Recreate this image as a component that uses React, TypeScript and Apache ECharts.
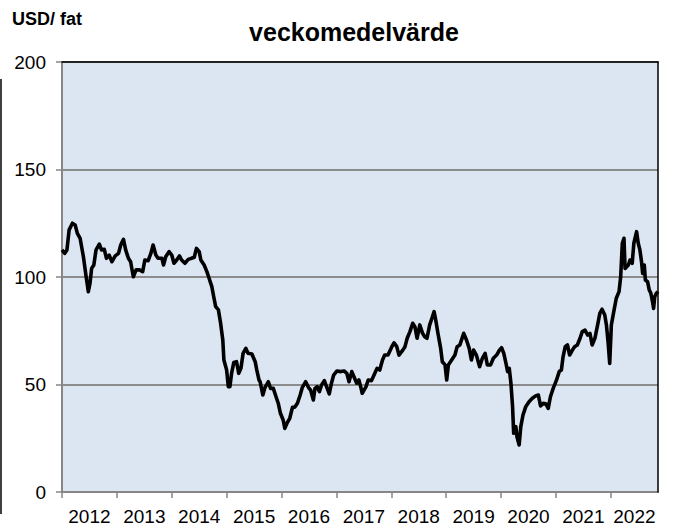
import React, { useEffect, useRef } from "react";
import * as echarts from "echarts";

const titleText = "veckomedelvärde";
const unitText = "USD/ fat";
const years = [2012, 2013, 2014, 2015, 2016, 2017, 2018, 2019, 2020, 2021, 2022];
const xMin = 2012;
const xMax = 2022.86;
const yTicks = [0, 50, 100, 150, 200];

// time position (decimal year) of each sample
const t = [
  2012.0, 2012.05, 2012.09, 2012.13, 2012.19, 2012.24, 2012.28, 2012.33, 2012.39, 2012.44,
  2012.48, 2012.51, 2012.54, 2012.58, 2012.62, 2012.68, 2012.72, 2012.77, 2012.81, 2012.86,
  2012.91, 2012.97, 2013.03, 2013.07, 2013.12, 2013.16, 2013.21, 2013.25, 2013.3, 2013.35,
  2013.41, 2013.47, 2013.51, 2013.57, 2013.62, 2013.66, 2013.71, 2013.75, 2013.82, 2013.85,
  2013.89, 2013.95, 2014.0, 2014.04, 2014.09, 2014.14, 2014.18, 2014.24, 2014.3, 2014.36,
  2014.41, 2014.45, 2014.5, 2014.53, 2014.59, 2014.64, 2014.68, 2014.73, 2014.77, 2014.8,
  2014.85, 2014.89, 2014.93, 2014.95, 2015.0, 2015.03, 2015.06, 2015.09, 2015.13, 2015.18,
  2015.22, 2015.26, 2015.3, 2015.35, 2015.39, 2015.46, 2015.52, 2015.55, 2015.59, 2015.61,
  2015.66, 2015.7, 2015.76, 2015.8, 2015.85, 2015.9, 2015.94, 2015.98, 2016.03, 2016.06,
  2016.1, 2016.15, 2016.2, 2016.24, 2016.29, 2016.34, 2016.38, 2016.44, 2016.49, 2016.53,
  2016.58, 2016.61, 2016.65, 2016.69, 2016.73, 2016.78, 2016.82, 2016.87, 2016.91, 2016.95,
  2017.01, 2017.08, 2017.14, 2017.19, 2017.23, 2017.28, 2017.32, 2017.37, 2017.41, 2017.45,
  2017.47, 2017.54, 2017.58, 2017.64, 2017.7, 2017.74, 2017.79, 2017.84, 2017.88, 2017.94,
  2018.01, 2018.05, 2018.1, 2018.14, 2018.21, 2018.25, 2018.29, 2018.34, 2018.39, 2018.43,
  2018.47, 2018.52, 2018.57, 2018.61, 2018.65, 2018.7, 2018.75, 2018.78, 2018.81, 2018.85,
  2018.9, 2018.93, 2018.98, 2019.01, 2019.04, 2019.1, 2019.16, 2019.2, 2019.25, 2019.32,
  2019.37, 2019.42, 2019.46, 2019.5, 2019.55, 2019.61, 2019.66, 2019.71, 2019.75, 2019.81,
  2019.86, 2019.92, 2019.97, 2020.01, 2020.05, 2020.09, 2020.12, 2020.15, 2020.18, 2020.21,
  2020.23, 2020.27, 2020.29, 2020.33, 2020.36, 2020.4, 2020.45, 2020.51, 2020.57, 2020.63,
  2020.68, 2020.72, 2020.77, 2020.82, 2020.86, 2020.9, 2020.95, 2021.01, 2021.06, 2021.1,
  2021.13, 2021.17, 2021.21, 2021.25, 2021.3, 2021.34, 2021.39, 2021.44, 2021.48, 2021.53,
  2021.58, 2021.62, 2021.66, 2021.71, 2021.76, 2021.8, 2021.84, 2021.89, 2021.92, 2021.95,
  2021.98, 2022.01, 2022.06, 2022.1, 2022.15, 2022.18, 2022.21, 2022.24, 2022.26, 2022.29,
  2022.32, 2022.35, 2022.39, 2022.42, 2022.47, 2022.5, 2022.53, 2022.56, 2022.58, 2022.61,
  2022.63, 2022.67, 2022.7, 2022.73, 2022.76, 2022.78, 2022.8, 2022.83, 2022.86,
];

// weekly average price, USD per barrel
const price = [
  112.6, 111, 112.6, 121.9, 125, 124.2, 120.3, 118, 109.4, 100.1,
  93.2, 97, 104, 105.6, 112.6, 115.3, 112.6, 112.9, 108.7, 110.2,
  107.1, 109.8, 111, 114.9, 117.5, 112.6, 108.7, 107.1, 100.1, 103.3,
  103.3, 102.5, 107.9, 107.6, 111, 114.9, 110.2, 108.7, 108.7, 105.6,
  109.4, 111.8, 110.2, 106.4, 107.9, 109.8, 107.9, 106.4, 108.2, 108.7,
  109.2, 113.3, 111.8, 107.9, 105.6, 102.5, 99.4, 95.5, 90.1, 86.2,
  84.7, 78.5, 70.7, 61.4, 56.7, 49, 49, 55.2, 60.2, 60.6,
  55.2, 57.5, 64.5, 66.8, 64.5, 64.2, 60.6, 56.7, 52.1, 51.3,
  45.1, 48.7, 51.3, 48.2, 48.2, 44.3, 41.3, 36.6, 33.5, 29.6,
  32, 34.3, 39.4, 39.4, 41.3, 45.1, 48.7, 51.3, 48.7, 47.4,
  42.8, 48.2, 49, 46.7, 49.8, 51.8, 49, 45.6, 50.6, 54.4,
  56.3, 56, 56.3, 55.2, 51.3, 56, 53.6, 50.6, 52.1, 48.2,
  45.9, 49, 52.1, 51.8, 55.2, 57.5, 56.7, 61.4, 63.7, 63.7,
  67.6, 69.4, 67.6, 63.7, 66, 67.6, 71.5, 74.6, 78.5, 76.9,
  71.5, 77.7, 73.8, 72.2, 71.5, 77.7, 81.5, 83.9, 80, 73.8,
  66.8, 60.6, 59.1, 52.1, 59.1, 61.4, 63.7, 67.6, 68.4, 73.8,
  70.7, 66.8, 61.4, 66, 63.7, 58.3, 62.2, 64.5, 59.1, 59.1,
  62.2, 63.7, 66, 67.1, 64.5, 59.8, 56, 57.5, 50.6, 39.7,
  27.3, 30.4, 25.7, 21.9, 30.4, 35.8, 39.7, 42, 43.6, 44.7,
  45.1, 40, 41.3, 40.9, 38.9, 44.3, 48.2, 52, 56, 56.7,
  62.9, 67.6, 68.4, 63.7, 66, 67.6, 68.4, 71.5, 74.6, 75.3,
  73, 73.8, 68.4, 71.5, 77.7, 83.1, 85, 82.3, 77.7, 69.9,
  59.8, 77.7, 84.7, 90.1, 93.2, 100.1, 115.7, 118, 104, 104.8,
  105.6, 107.9, 106.4, 115.7, 121.1, 115.7, 112.6, 107.1, 101.7, 105.6,
  98.6, 97.8, 94, 92.4, 88.5, 85.4, 90.8, 92.4, 93.2,
];

const FONT = "'Liberation Sans', Arial, Helvetica, sans-serif";

export default function App() {
  const ref = useRef<HTMLDivElement>(null);

  useEffect(() => {
    if (!ref.current) return;
    const chart = echarts.init(ref.current, null, { renderer: "svg" });
    const data = t.map((x, i) => [x, price[i]]);
    const lastYear = years[years.length - 1];
    const labelPos = years.map((y) => (y === lastYear ? (y + xMax) / 2 : y + 0.5));

    chart.setOption({
      animation: false,
      backgroundColor: "#ffffff",
      textStyle: { fontFamily: FONT },
      grid: {
        left: 62,
        top: 62,
        right: 16,
        bottom: 40,
        show: true,
        backgroundColor: "#dce6f2",
        borderWidth: 0,
      },
      title: [
        {
          text: titleText,
          left: 349,
          top: 14,
          textAlign: "center",
          textStyle: { fontFamily: FONT, fontWeight: "bold", fontSize: 25, color: "#000" },
        },
        {
          text: unitText,
          left: 7,
          top: 5,
          textStyle: { fontFamily: FONT, fontWeight: "bold", fontSize: 18, color: "#000" },
        },
      ],
      xAxis: [
        {
          type: "value",
          min: xMin,
          max: xMax,
          position: "bottom",
          axisLine: { show: true, onZero: false, lineStyle: { color: "#868686", width: 2 } },
          axisTick: {
            show: true,
            inside: false,
            length: 6,
            customValues: years,
            lineStyle: { color: "#868686", width: 1.5 },
          },
          axisLabel: {
            show: true,
            customValues: labelPos,
            formatter: (v: number) => String(Math.floor(v + 1e-6)),
            fontFamily: FONT,
            fontSize: 19,
            color: "#000",
            margin: 15,
          },
          splitLine: { show: false },
        },
        {
          type: "value",
          min: xMin,
          max: xMax,
          position: "top",
          z: 5,
          axisLine: { show: true, onZero: false, lineStyle: { color: "#000", width: 1.5 } },
          axisTick: { show: false },
          axisLabel: { show: false },
          splitLine: { show: false },
        },
      ],
      yAxis: [
        {
          type: "value",
          min: 0,
          max: 200,
          interval: 50,
          position: "left",
          axisLine: { show: true, onZero: false, lineStyle: { color: "#868686", width: 2 } },
          axisTick: { show: true, inside: false, length: 6, lineStyle: { color: "#868686", width: 1.5 } },
          axisLabel: {
            fontFamily: FONT,
            fontSize: 19,
            color: "#000",
            margin: 16,
            formatter: (v: number) => (yTicks.includes(v) ? String(v) : ""),
          },
          splitLine: { show: true, lineStyle: { color: "#8c8c8c", width: 2 } },
        },
        {
          type: "value",
          min: 0,
          max: 200,
          position: "right",
          z: 5,
          axisLine: { show: true, onZero: false, lineStyle: { color: "#000", width: 1.5 } },
          axisTick: { show: false },
          axisLabel: { show: false },
          splitLine: { show: false },
        },
      ],
      graphic: [
        {
          type: "line",
          shape: { x1: 1, y1: 79, x2: 1, y2: 514 },
          style: { stroke: "#000", lineWidth: 1.5 },
        },
      ],
      series: [
        {
          type: "line",
          xAxisIndex: 0,
          yAxisIndex: 0,
          data,
          showSymbol: false,
          symbol: "none",
          z: 4,
          lineStyle: { color: "#000", width: 3.6, join: "round" },
        },
      ],
    });

    return () => chart.dispose();
  }, []);

  return (
    <div
      ref={ref}
      style={{ position: "absolute", left: 0, top: 0, width: 674, height: 532 }}
    />
  );
}
